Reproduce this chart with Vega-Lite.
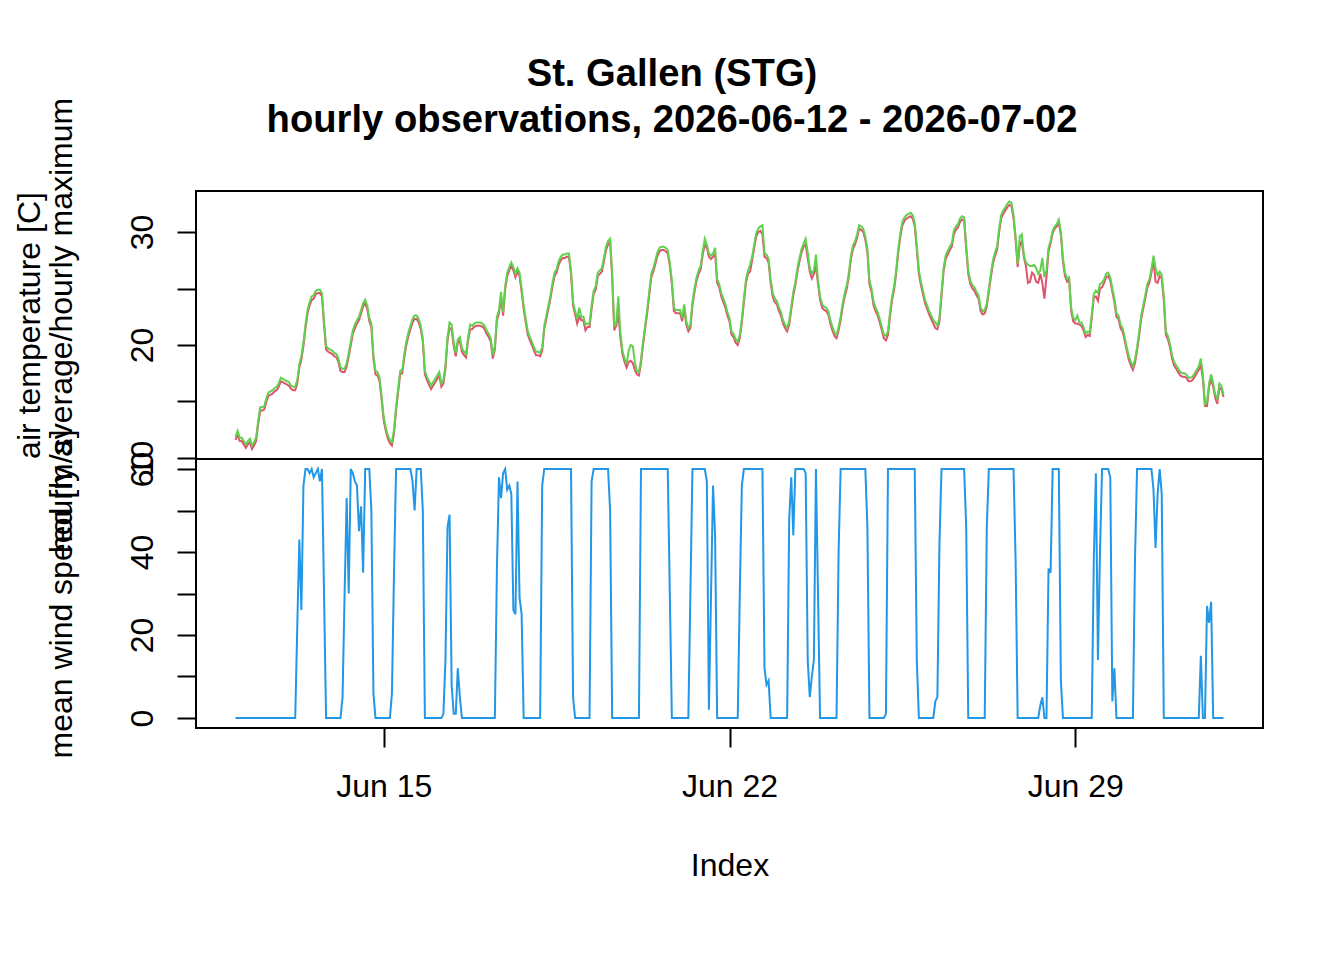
{
  "$schema": "https://vega.github.io/schema/vega-lite/v6.json",
  "background": "white",
  "padding": {"left": 12, "top": 55, "right": 10, "bottom": 10},
  "bounds": "flush",
  "spacing": 0,
  "title": {
    "text": ["St. Gallen (STG)", "hourly observations, 2026-06-12 - 2026-07-02"],
    "font": "Liberation Sans",
    "fontSize": 38.2,
    "fontWeight": "bold",
    "color": "#000000",
    "lineHeight": 46,
    "anchor": "middle",
    "frame": "group",
    "dx": -57.5,
    "offset": -44
  },
  "data": {
    "values": [
      {"h":0,"avg":11.6,"max":11.9,"wind":0},{"h":1,"avg":12.1,"max":12.4,"wind":0},{"h":2,"avg":11.5,"max":11.8,"wind":0},{"h":3,"avg":11.5,"max":11.8,"wind":0},{"h":4,"avg":11.2,"max":11.5,"wind":0},{"h":5,"avg":10.9,"max":11.2,"wind":0},{"h":6,"avg":11.2,"max":11.5,"wind":0},{"h":7,"avg":11.4,"max":11.7,"wind":0},{"h":8,"avg":10.8,"max":11.1,"wind":0},{"h":9,"avg":11.1,"max":11.4,"wind":0},
      {"h":10,"avg":11.5,"max":11.8,"wind":0},{"h":11,"avg":13.0,"max":13.3,"wind":0},{"h":12,"avg":14.2,"max":14.5,"wind":0},{"h":13,"avg":14.2,"max":14.5,"wind":0},{"h":14,"avg":14.3,"max":14.6,"wind":0},{"h":15,"avg":15.0,"max":15.3,"wind":0},{"h":16,"avg":15.5,"max":15.8,"wind":0},{"h":17,"avg":15.6,"max":15.9,"wind":0},{"h":18,"avg":15.7,"max":16.0,"wind":0},{"h":19,"avg":15.9,"max":16.2,"wind":0},
      {"h":20,"avg":16.0,"max":16.3,"wind":0},{"h":21,"avg":16.3,"max":16.6,"wind":0},{"h":22,"avg":16.8,"max":17.1,"wind":0},{"h":23,"avg":16.7,"max":17.0,"wind":0},{"h":24,"avg":16.6,"max":16.9,"wind":0},{"h":25,"avg":16.5,"max":16.8,"wind":0},{"h":26,"avg":16.4,"max":16.7,"wind":0},{"h":27,"avg":16.1,"max":16.4,"wind":0},{"h":28,"avg":16.0,"max":16.3,"wind":0},{"h":29,"avg":16.0,"max":16.3,"wind":0},
      {"h":30,"avg":16.6,"max":16.9,"wind":22},{"h":31,"avg":18.0,"max":18.3,"wind":43},{"h":32,"avg":18.7,"max":19.0,"wind":26},{"h":33,"avg":19.9,"max":20.2,"wind":56},{"h":34,"avg":21.5,"max":21.8,"wind":60},{"h":35,"avg":22.8,"max":23.1,"wind":60},{"h":36,"avg":23.5,"max":23.8,"wind":59},{"h":37,"avg":24.0,"max":24.3,"wind":60},{"h":38,"avg":24.1,"max":24.4,"wind":58},{"h":39,"avg":24.5,"max":24.8,"wind":59},
      {"h":40,"avg":24.6,"max":24.9,"wind":60},{"h":41,"avg":24.6,"max":24.9,"wind":57},{"h":42,"avg":24.3,"max":24.6,"wind":60},{"h":43,"avg":21.8,"max":22.1,"wind":30},{"h":44,"avg":19.6,"max":19.9,"wind":0},{"h":45,"avg":19.4,"max":19.7,"wind":0},{"h":46,"avg":19.3,"max":19.6,"wind":0},{"h":47,"avg":19.2,"max":19.5,"wind":0},{"h":48,"avg":19.0,"max":19.3,"wind":0},{"h":49,"avg":18.9,"max":19.2,"wind":0},
      {"h":50,"avg":18.5,"max":18.8,"wind":0},{"h":51,"avg":17.7,"max":18.0,"wind":0},{"h":52,"avg":17.6,"max":17.9,"wind":5},{"h":53,"avg":17.6,"max":17.9,"wind":30},{"h":54,"avg":18.1,"max":18.4,"wind":53},{"h":55,"avg":19.0,"max":19.3,"wind":30},{"h":56,"avg":20.0,"max":20.3,"wind":60},{"h":57,"avg":21.0,"max":21.3,"wind":59},{"h":58,"avg":21.5,"max":21.8,"wind":57},{"h":59,"avg":21.9,"max":22.2,"wind":56},
      {"h":60,"avg":22.2,"max":22.5,"wind":45},{"h":61,"avg":22.8,"max":23.1,"wind":51},{"h":62,"avg":23.4,"max":23.7,"wind":35},{"h":63,"avg":23.7,"max":24.0,"wind":60},{"h":64,"avg":23.2,"max":23.5,"wind":60},{"h":65,"avg":22.1,"max":22.4,"wind":60},{"h":66,"avg":21.6,"max":21.9,"wind":50},{"h":67,"avg":18.8,"max":19.1,"wind":6},{"h":68,"avg":17.4,"max":17.7,"wind":0},{"h":69,"avg":17.3,"max":17.6,"wind":0},
      {"h":70,"avg":16.8,"max":17.1,"wind":0},{"h":71,"avg":15.1,"max":15.4,"wind":0},{"h":72,"avg":13.3,"max":13.6,"wind":0},{"h":73,"avg":12.4,"max":12.7,"wind":0},{"h":74,"avg":11.7,"max":12.0,"wind":0},{"h":75,"avg":11.3,"max":11.6,"wind":0},{"h":76,"avg":11.1,"max":11.4,"wind":6},{"h":77,"avg":12.2,"max":12.5,"wind":35},{"h":78,"avg":14.2,"max":14.5,"wind":60},{"h":79,"avg":15.8,"max":16.1,"wind":60},
      {"h":80,"avg":17.4,"max":17.7,"wind":60},{"h":81,"avg":17.5,"max":17.8,"wind":60},{"h":82,"avg":18.9,"max":19.2,"wind":60},{"h":83,"avg":20.0,"max":20.3,"wind":60},{"h":84,"avg":20.8,"max":21.1,"wind":60},{"h":85,"avg":21.4,"max":21.7,"wind":60},{"h":86,"avg":22.0,"max":22.3,"wind":57},{"h":87,"avg":22.3,"max":22.6,"wind":50},{"h":88,"avg":22.3,"max":22.6,"wind":60},{"h":89,"avg":22.0,"max":22.3,"wind":60},
      {"h":90,"avg":21.4,"max":21.7,"wind":60},{"h":91,"avg":20.3,"max":20.6,"wind":50},{"h":92,"avg":17.4,"max":17.7,"wind":0},{"h":93,"avg":16.9,"max":17.2,"wind":0},{"h":94,"avg":16.5,"max":16.8,"wind":0},{"h":95,"avg":16.1,"max":16.4,"wind":0},{"h":96,"avg":16.4,"max":16.7,"wind":0},{"h":97,"avg":16.7,"max":17.0,"wind":0},{"h":98,"avg":17.0,"max":17.3,"wind":0},{"h":99,"avg":17.3,"max":17.6,"wind":0},
      {"h":100,"avg":16.3,"max":16.6,"wind":0},{"h":101,"avg":16.6,"max":16.9,"wind":1},{"h":102,"avg":17.9,"max":18.2,"wind":14},{"h":103,"avg":20.4,"max":20.7,"wind":46},{"h":104,"avg":21.5,"max":22.0,"wind":49},{"h":105,"avg":21.4,"max":21.8,"wind":8},{"h":106,"avg":19.9,"max":20.2,"wind":1},{"h":107,"avg":19.0,"max":19.3,"wind":1},{"h":108,"avg":20.2,"max":20.5,"wind":12},{"h":109,"avg":20.4,"max":20.7,"wind":5},
      {"h":110,"avg":19.4,"max":19.7,"wind":0},{"h":111,"avg":19.1,"max":19.4,"wind":0},{"h":112,"avg":18.9,"max":19.2,"wind":0},{"h":113,"avg":20.4,"max":20.7,"wind":0},{"h":114,"avg":21.4,"max":21.8,"wind":0},{"h":115,"avg":21.4,"max":21.7,"wind":0},{"h":116,"avg":21.6,"max":21.9,"wind":0},{"h":117,"avg":21.7,"max":22.0,"wind":0},{"h":118,"avg":21.7,"max":22.0,"wind":0},{"h":119,"avg":21.7,"max":22.0,"wind":0},
      {"h":120,"avg":21.6,"max":21.9,"wind":0},{"h":121,"avg":21.4,"max":21.7,"wind":0},{"h":122,"avg":21.0,"max":21.3,"wind":0},{"h":123,"avg":20.7,"max":21.0,"wind":0},{"h":124,"avg":20.3,"max":20.6,"wind":0},{"h":125,"avg":18.8,"max":19.1,"wind":0},{"h":126,"avg":19.6,"max":19.9,"wind":0},{"h":127,"avg":22.2,"max":22.5,"wind":36},{"h":128,"avg":22.8,"max":23.1,"wind":58},{"h":129,"avg":24.2,"max":24.7,"wind":53},
      {"h":130,"avg":22.6,"max":22.9,"wind":59},{"h":131,"avg":24.9,"max":25.2,"wind":60},{"h":132,"avg":26.1,"max":26.4,"wind":55},{"h":133,"avg":26.6,"max":26.9,"wind":56},{"h":134,"avg":27.0,"max":27.3,"wind":54},{"h":135,"avg":26.6,"max":26.9,"wind":26},{"h":136,"avg":26.0,"max":26.3,"wind":25},{"h":137,"avg":26.5,"max":26.8,"wind":57},{"h":138,"avg":26.1,"max":26.4,"wind":29},{"h":139,"avg":24.7,"max":25.0,"wind":25},
      {"h":140,"avg":23.2,"max":23.5,"wind":0},{"h":141,"avg":22.0,"max":22.3,"wind":0},{"h":142,"avg":20.9,"max":21.2,"wind":0},{"h":143,"avg":20.4,"max":20.7,"wind":0},{"h":144,"avg":20.0,"max":20.3,"wind":0},{"h":145,"avg":19.5,"max":19.8,"wind":0},{"h":146,"avg":19.1,"max":19.4,"wind":0},{"h":147,"avg":19.1,"max":19.4,"wind":0},{"h":148,"avg":19.0,"max":19.3,"wind":0},{"h":149,"avg":19.5,"max":19.8,"wind":56},
      {"h":150,"avg":21.4,"max":21.7,"wind":60},{"h":151,"avg":22.3,"max":22.6,"wind":60},{"h":152,"avg":23.2,"max":23.5,"wind":60},{"h":153,"avg":24.1,"max":24.4,"wind":60},{"h":154,"avg":25.2,"max":25.5,"wind":60},{"h":155,"avg":26.1,"max":26.4,"wind":60},{"h":156,"avg":26.4,"max":26.7,"wind":60},{"h":157,"avg":27.1,"max":27.4,"wind":60},{"h":158,"avg":27.5,"max":27.8,"wind":60},{"h":159,"avg":27.7,"max":28.0,"wind":60},
      {"h":160,"avg":27.7,"max":28.0,"wind":60},{"h":161,"avg":27.8,"max":28.1,"wind":60},{"h":162,"avg":27.8,"max":28.1,"wind":60},{"h":163,"avg":26.3,"max":26.6,"wind":60},{"h":164,"avg":23.5,"max":23.8,"wind":5},{"h":165,"avg":22.7,"max":23.0,"wind":0},{"h":166,"avg":21.9,"max":22.3,"wind":0},{"h":167,"avg":22.5,"max":23.3,"wind":0},{"h":168,"avg":22.2,"max":22.5,"wind":0},{"h":169,"avg":22.2,"max":22.5,"wind":0},
      {"h":170,"avg":21.3,"max":21.8,"wind":0},{"h":171,"avg":21.6,"max":21.9,"wind":0},{"h":172,"avg":21.6,"max":21.9,"wind":0},{"h":173,"avg":23.2,"max":23.5,"wind":57},{"h":174,"avg":24.5,"max":24.8,"wind":60},{"h":175,"avg":24.9,"max":25.2,"wind":60},{"h":176,"avg":26.1,"max":26.4,"wind":60},{"h":177,"avg":26.3,"max":26.6,"wind":60},{"h":178,"avg":26.5,"max":26.8,"wind":60},{"h":179,"avg":27.4,"max":27.7,"wind":60},
      {"h":180,"avg":28.4,"max":28.7,"wind":60},{"h":181,"avg":28.9,"max":29.2,"wind":60},{"h":182,"avg":29.1,"max":29.4,"wind":50},{"h":183,"avg":26.0,"max":26.3,"wind":0},{"h":184,"avg":21.3,"max":21.6,"wind":0},{"h":185,"avg":21.7,"max":22.0,"wind":0},{"h":186,"avg":22.8,"max":24.3,"wind":0},{"h":187,"avg":20.6,"max":21.0,"wind":0},{"h":188,"avg":19.2,"max":19.5,"wind":0},{"h":189,"avg":18.5,"max":18.8,"wind":0},
      {"h":190,"avg":18.0,"max":18.3,"wind":0},{"h":191,"avg":18.5,"max":19.5,"wind":0},{"h":192,"avg":18.6,"max":20.0,"wind":0},{"h":193,"avg":18.4,"max":19.9,"wind":0},{"h":194,"avg":17.8,"max":18.5,"wind":0},{"h":195,"avg":17.4,"max":17.7,"wind":0},{"h":196,"avg":17.3,"max":17.6,"wind":0},{"h":197,"avg":18.4,"max":18.7,"wind":60},{"h":198,"avg":20.0,"max":20.3,"wind":60},{"h":199,"avg":21.4,"max":21.7,"wind":60},
      {"h":200,"avg":22.8,"max":23.1,"wind":60},{"h":201,"avg":24.4,"max":24.7,"wind":60},{"h":202,"avg":26.0,"max":26.3,"wind":60},{"h":203,"avg":26.5,"max":26.8,"wind":60},{"h":204,"avg":27.2,"max":27.5,"wind":60},{"h":205,"avg":27.9,"max":28.2,"wind":60},{"h":206,"avg":28.3,"max":28.6,"wind":60},{"h":207,"avg":28.4,"max":28.7,"wind":60},{"h":208,"avg":28.4,"max":28.7,"wind":60},{"h":209,"avg":28.3,"max":28.6,"wind":60},
      {"h":210,"avg":28.1,"max":28.4,"wind":60},{"h":211,"avg":27.0,"max":27.3,"wind":30},{"h":212,"avg":25.4,"max":25.7,"wind":0},{"h":213,"avg":23.0,"max":23.3,"wind":0},{"h":214,"avg":22.8,"max":23.1,"wind":0},{"h":215,"avg":22.8,"max":23.1,"wind":0},{"h":216,"avg":22.8,"max":23.1,"wind":0},{"h":217,"avg":22.1,"max":22.4,"wind":0},{"h":218,"avg":23.3,"max":23.6,"wind":0},{"h":219,"avg":21.8,"max":22.1,"wind":0},
      {"h":220,"avg":21.2,"max":21.5,"wind":0},{"h":221,"avg":21.5,"max":21.8,"wind":30},{"h":222,"avg":23.5,"max":23.8,"wind":60},{"h":223,"avg":24.7,"max":25.0,"wind":60},{"h":224,"avg":25.7,"max":26.0,"wind":60},{"h":225,"avg":26.3,"max":26.6,"wind":60},{"h":226,"avg":26.7,"max":27.0,"wind":60},{"h":227,"avg":28.0,"max":28.3,"wind":60},{"h":228,"avg":28.9,"max":29.4,"wind":60},{"h":229,"avg":28.6,"max":28.9,"wind":57},
      {"h":230,"avg":27.8,"max":28.1,"wind":2},{"h":231,"avg":27.6,"max":27.9,"wind":29},{"h":232,"avg":27.8,"max":28.1,"wind":56},{"h":233,"avg":28.1,"max":28.6,"wind":44},{"h":234,"avg":25.5,"max":25.8,"wind":0},{"h":235,"avg":25.1,"max":25.4,"wind":0},{"h":236,"avg":24.3,"max":24.6,"wind":0},{"h":237,"avg":23.8,"max":24.1,"wind":0},{"h":238,"avg":23.3,"max":23.6,"wind":0},{"h":239,"avg":22.6,"max":22.9,"wind":0},
      {"h":240,"avg":22.1,"max":22.4,"wind":0},{"h":241,"avg":20.9,"max":21.2,"wind":0},{"h":242,"avg":20.7,"max":21.0,"wind":0},{"h":243,"avg":20.2,"max":20.5,"wind":0},{"h":244,"avg":20.0,"max":20.3,"wind":0},{"h":245,"avg":20.6,"max":20.9,"wind":30},{"h":246,"avg":22.0,"max":22.3,"wind":56},{"h":247,"avg":23.8,"max":24.1,"wind":60},{"h":248,"avg":25.5,"max":25.8,"wind":60},{"h":249,"avg":26.3,"max":26.6,"wind":60},
      {"h":250,"avg":26.5,"max":27.1,"wind":60},{"h":251,"avg":27.5,"max":27.8,"wind":60},{"h":252,"avg":28.6,"max":28.9,"wind":60},{"h":253,"avg":29.6,"max":29.9,"wind":60},{"h":254,"avg":30.0,"max":30.3,"wind":60},{"h":255,"avg":30.1,"max":30.5,"wind":60},{"h":256,"avg":29.8,"max":30.6,"wind":60},{"h":257,"avg":27.8,"max":28.1,"wind":12},{"h":258,"avg":27.7,"max":28.0,"wind":8},{"h":259,"avg":27.3,"max":27.6,"wind":9},
      {"h":260,"avg":25.5,"max":25.8,"wind":0},{"h":261,"avg":24.3,"max":24.6,"wind":0},{"h":262,"avg":23.8,"max":24.1,"wind":0},{"h":263,"avg":23.6,"max":23.9,"wind":0},{"h":264,"avg":23.0,"max":23.3,"wind":0},{"h":265,"avg":22.6,"max":22.9,"wind":0},{"h":266,"avg":21.9,"max":22.2,"wind":0},{"h":267,"avg":21.5,"max":21.8,"wind":0},{"h":268,"avg":21.2,"max":21.5,"wind":0},{"h":269,"avg":21.8,"max":22.1,"wind":48},
      {"h":270,"avg":23.1,"max":23.4,"wind":58},{"h":271,"avg":24.4,"max":24.7,"wind":44},{"h":272,"avg":25.3,"max":25.6,"wind":60},{"h":273,"avg":26.5,"max":26.8,"wind":60},{"h":274,"avg":27.4,"max":27.7,"wind":60},{"h":275,"avg":28.2,"max":28.5,"wind":60},{"h":276,"avg":28.7,"max":29.0,"wind":60},{"h":277,"avg":28.9,"max":29.4,"wind":59},{"h":278,"avg":27.7,"max":28.2,"wind":14},{"h":279,"avg":26.5,"max":26.8,"wind":5},
      {"h":280,"avg":25.9,"max":26.3,"wind":10},{"h":281,"avg":26.3,"max":26.6,"wind":14},{"h":282,"avg":27.0,"max":28.0,"wind":60},{"h":283,"avg":25.4,"max":25.7,"wind":30},{"h":284,"avg":24.0,"max":24.3,"wind":0},{"h":285,"avg":23.3,"max":23.6,"wind":0},{"h":286,"avg":23.1,"max":23.4,"wind":0},{"h":287,"avg":23.0,"max":23.3,"wind":0},{"h":288,"avg":22.7,"max":23.0,"wind":0},{"h":289,"avg":21.9,"max":22.2,"wind":0},
      {"h":290,"avg":21.3,"max":21.6,"wind":0},{"h":291,"avg":20.8,"max":21.1,"wind":0},{"h":292,"avg":20.6,"max":20.9,"wind":0},{"h":293,"avg":21.3,"max":21.6,"wind":40},{"h":294,"avg":22.2,"max":22.5,"wind":60},{"h":295,"avg":23.4,"max":23.7,"wind":60},{"h":296,"avg":24.3,"max":24.6,"wind":60},{"h":297,"avg":25.0,"max":25.3,"wind":60},{"h":298,"avg":26.1,"max":26.4,"wind":60},{"h":299,"avg":27.6,"max":27.9,"wind":60},
      {"h":300,"avg":28.5,"max":28.8,"wind":60},{"h":301,"avg":28.9,"max":29.2,"wind":60},{"h":302,"avg":29.5,"max":29.8,"wind":60},{"h":303,"avg":30.3,"max":30.6,"wind":60},{"h":304,"avg":30.2,"max":30.5,"wind":60},{"h":305,"avg":30.0,"max":30.3,"wind":60},{"h":306,"avg":29.3,"max":29.6,"wind":60},{"h":307,"avg":28.2,"max":28.5,"wind":46},{"h":308,"avg":25.4,"max":25.7,"wind":0},{"h":309,"avg":24.7,"max":25.0,"wind":0},
      {"h":310,"avg":23.5,"max":23.8,"wind":0},{"h":311,"avg":23.0,"max":23.3,"wind":0},{"h":312,"avg":22.6,"max":22.9,"wind":0},{"h":313,"avg":22.0,"max":22.3,"wind":0},{"h":314,"avg":21.3,"max":21.6,"wind":0},{"h":315,"avg":20.6,"max":20.9,"wind":0},{"h":316,"avg":20.4,"max":20.8,"wind":1},{"h":317,"avg":20.9,"max":21.2,"wind":60},{"h":318,"avg":22.6,"max":22.9,"wind":60},{"h":319,"avg":24.0,"max":24.3,"wind":60},
      {"h":320,"avg":24.9,"max":25.2,"wind":60},{"h":321,"avg":26.4,"max":26.7,"wind":60},{"h":322,"avg":28.2,"max":28.5,"wind":60},{"h":323,"avg":29.6,"max":29.9,"wind":60},{"h":324,"avg":30.6,"max":30.9,"wind":60},{"h":325,"avg":31.0,"max":31.3,"wind":60},{"h":326,"avg":31.2,"max":31.5,"wind":60},{"h":327,"avg":31.3,"max":31.6,"wind":60},{"h":328,"avg":31.4,"max":31.7,"wind":60},{"h":329,"avg":31.2,"max":31.5,"wind":60},
      {"h":330,"avg":30.5,"max":30.8,"wind":60},{"h":331,"avg":28.5,"max":28.8,"wind":14},{"h":332,"avg":26.3,"max":26.6,"wind":0},{"h":333,"avg":25.3,"max":25.6,"wind":0},{"h":334,"avg":24.5,"max":24.8,"wind":0},{"h":335,"avg":23.7,"max":24.0,"wind":0},{"h":336,"avg":23.2,"max":23.5,"wind":0},{"h":337,"avg":22.7,"max":23.0,"wind":0},{"h":338,"avg":22.3,"max":22.6,"wind":0},{"h":339,"avg":21.9,"max":22.2,"wind":0},
      {"h":340,"avg":21.5,"max":22.0,"wind":4},{"h":341,"avg":21.4,"max":21.7,"wind":5},{"h":342,"avg":22.1,"max":22.4,"wind":42},{"h":343,"avg":24.3,"max":24.6,"wind":60},{"h":344,"avg":26.5,"max":26.8,"wind":60},{"h":345,"avg":27.6,"max":27.9,"wind":60},{"h":346,"avg":28.0,"max":28.3,"wind":60},{"h":347,"avg":28.4,"max":28.7,"wind":60},{"h":348,"avg":28.7,"max":29.0,"wind":60},{"h":349,"avg":29.8,"max":30.1,"wind":60},
      {"h":350,"avg":30.2,"max":30.5,"wind":60},{"h":351,"avg":30.4,"max":30.7,"wind":60},{"h":352,"avg":30.9,"max":31.2,"wind":60},{"h":353,"avg":31.1,"max":31.4,"wind":60},{"h":354,"avg":31.0,"max":31.3,"wind":60},{"h":355,"avg":28.5,"max":28.8,"wind":46},{"h":356,"avg":26.3,"max":26.6,"wind":0},{"h":357,"avg":25.4,"max":25.7,"wind":0},{"h":358,"avg":25.0,"max":25.3,"wind":0},{"h":359,"avg":24.8,"max":25.1,"wind":0},
      {"h":360,"avg":24.4,"max":24.7,"wind":0},{"h":361,"avg":24.1,"max":24.4,"wind":0},{"h":362,"avg":23.0,"max":23.3,"wind":0},{"h":363,"avg":22.7,"max":23.0,"wind":0},{"h":364,"avg":22.8,"max":23.1,"wind":0},{"h":365,"avg":23.4,"max":23.7,"wind":46},{"h":366,"avg":24.7,"max":25.0,"wind":60},{"h":367,"avg":26.0,"max":26.3,"wind":60},{"h":368,"avg":27.2,"max":27.5,"wind":60},{"h":369,"avg":27.9,"max":28.2,"wind":60},
      {"h":370,"avg":28.4,"max":28.7,"wind":60},{"h":371,"avg":30.0,"max":30.3,"wind":60},{"h":372,"avg":31.2,"max":31.5,"wind":60},{"h":373,"avg":31.6,"max":31.9,"wind":60},{"h":374,"avg":31.9,"max":32.2,"wind":60},{"h":375,"avg":32.2,"max":32.5,"wind":60},{"h":376,"avg":32.4,"max":32.7,"wind":60},{"h":377,"avg":32.3,"max":32.6,"wind":60},{"h":378,"avg":31.2,"max":31.5,"wind":60},{"h":379,"avg":29.3,"max":29.6,"wind":38},
      {"h":380,"avg":26.9,"max":27.2,"wind":0},{"h":381,"avg":28.8,"max":29.6,"wind":0},{"h":382,"avg":29.2,"max":29.8,"wind":0},{"h":383,"avg":27.8,"max":28.0,"wind":0},{"h":384,"avg":27.0,"max":27.3,"wind":0},{"h":385,"avg":25.5,"max":27.1,"wind":0},{"h":386,"avg":25.6,"max":27.0,"wind":0},{"h":387,"avg":26.4,"max":27.0,"wind":0},{"h":388,"avg":26.2,"max":27.1,"wind":0},{"h":389,"avg":25.6,"max":26.8,"wind":0},
      {"h":390,"avg":25.5,"max":26.3,"wind":0},{"h":391,"avg":26.3,"max":26.6,"wind":3},{"h":392,"avg":25.5,"max":27.7,"wind":5},{"h":393,"avg":24.1,"max":26.0,"wind":0},{"h":394,"avg":26.0,"max":26.6,"wind":0},{"h":395,"avg":28.3,"max":28.6,"wind":36},{"h":396,"avg":29.0,"max":29.2,"wind":35},{"h":397,"avg":29.9,"max":30.1,"wind":60},{"h":398,"avg":30.3,"max":30.5,"wind":60},{"h":399,"avg":30.5,"max":30.7,"wind":60},
      {"h":400,"avg":30.8,"max":31.1,"wind":60},{"h":401,"avg":29.8,"max":30.0,"wind":9},{"h":402,"avg":27.4,"max":27.7,"wind":0},{"h":403,"avg":26.1,"max":26.4,"wind":0},{"h":404,"avg":25.6,"max":25.9,"wind":0},{"h":405,"avg":25.8,"max":26.0,"wind":0},{"h":406,"avg":23.0,"max":23.3,"wind":0},{"h":407,"avg":22.1,"max":22.4,"wind":0},{"h":408,"avg":21.9,"max":22.2,"wind":0},{"h":409,"avg":21.9,"max":22.6,"wind":0},
      {"h":410,"avg":21.8,"max":22.0,"wind":0},{"h":411,"avg":21.7,"max":22.0,"wind":0},{"h":412,"avg":21.3,"max":21.6,"wind":0},{"h":413,"avg":20.7,"max":21.0,"wind":0},{"h":414,"avg":20.9,"max":21.2,"wind":0},{"h":415,"avg":20.8,"max":21.1,"wind":0},{"h":416,"avg":22.4,"max":22.7,"wind":0},{"h":417,"avg":24.2,"max":24.5,"wind":38},{"h":418,"avg":24.3,"max":24.8,"wind":59},{"h":419,"avg":23.9,"max":24.6,"wind":14},
      {"h":420,"avg":25.0,"max":25.4,"wind":40},{"h":421,"avg":25.1,"max":25.5,"wind":60},{"h":422,"avg":25.5,"max":25.8,"wind":60},{"h":423,"avg":26.0,"max":26.3,"wind":60},{"h":424,"avg":26.1,"max":26.4,"wind":60},{"h":425,"avg":25.7,"max":26.0,"wind":58},{"h":426,"avg":24.7,"max":25.0,"wind":4},{"h":427,"avg":23.8,"max":24.1,"wind":12},{"h":428,"avg":22.5,"max":22.8,"wind":0},{"h":429,"avg":22.3,"max":22.6,"wind":0},
      {"h":430,"avg":21.5,"max":21.8,"wind":0},{"h":431,"avg":21.2,"max":21.5,"wind":0},{"h":432,"avg":20.4,"max":20.7,"wind":0},{"h":433,"avg":19.5,"max":19.8,"wind":0},{"h":434,"avg":18.7,"max":19.0,"wind":0},{"h":435,"avg":18.2,"max":18.5,"wind":0},{"h":436,"avg":17.8,"max":18.1,"wind":0},{"h":437,"avg":18.4,"max":18.7,"wind":38},{"h":438,"avg":19.5,"max":19.8,"wind":60},{"h":439,"avg":20.8,"max":21.1,"wind":60},
      {"h":440,"avg":22.3,"max":22.6,"wind":60},{"h":441,"avg":23.2,"max":23.5,"wind":60},{"h":442,"avg":24.1,"max":24.4,"wind":60},{"h":443,"avg":25.1,"max":25.4,"wind":60},{"h":444,"avg":25.5,"max":25.8,"wind":60},{"h":445,"avg":26.4,"max":26.7,"wind":60},{"h":446,"avg":27.5,"max":27.9,"wind":55},{"h":447,"avg":25.6,"max":26.8,"wind":41},{"h":448,"avg":25.5,"max":26.2,"wind":54},{"h":449,"avg":26.1,"max":26.5,"wind":60},
      {"h":450,"avg":25.9,"max":26.2,"wind":54},{"h":451,"avg":24.0,"max":24.3,"wind":0},{"h":452,"avg":20.9,"max":21.2,"wind":0},{"h":453,"avg":20.5,"max":20.8,"wind":0},{"h":454,"avg":19.8,"max":20.1,"wind":0},{"h":455,"avg":18.8,"max":19.1,"wind":0},{"h":456,"avg":18.2,"max":18.5,"wind":0},{"h":457,"avg":17.9,"max":18.2,"wind":0},{"h":458,"avg":17.6,"max":17.9,"wind":0},{"h":459,"avg":17.3,"max":17.6,"wind":0},
      {"h":460,"avg":17.2,"max":17.5,"wind":0},{"h":461,"avg":17.2,"max":17.5,"wind":0},{"h":462,"avg":17.1,"max":17.4,"wind":0},{"h":463,"avg":16.8,"max":17.1,"wind":0},{"h":464,"avg":16.8,"max":17.1,"wind":0},{"h":465,"avg":16.9,"max":17.2,"wind":0},{"h":466,"avg":17.2,"max":17.5,"wind":0},{"h":467,"avg":17.5,"max":17.8,"wind":0},{"h":468,"avg":17.8,"max":18.1,"wind":0},{"h":469,"avg":18.2,"max":18.8,"wind":15},
      {"h":470,"avg":17.0,"max":17.4,"wind":0},{"h":471,"avg":14.6,"max":14.8,"wind":0},{"h":472,"avg":14.6,"max":15.0,"wind":27},{"h":473,"avg":16.3,"max":16.6,"wind":23},{"h":474,"avg":17.0,"max":17.4,"wind":28},{"h":475,"avg":16.3,"max":16.6,"wind":0},{"h":476,"avg":15.3,"max":15.6,"wind":0},{"h":477,"avg":14.8,"max":15.2,"wind":0},{"h":478,"avg":16.2,"max":16.6,"wind":0},{"h":479,"avg":16.1,"max":16.4,"wind":0},
      {"h":480,"avg":15.4,"max":15.6,"wind":0}
    ]
  },
  "vconcat": [
    {
      "width": 1067,
      "height": 268,
      "transform": [{"fold": ["avg", "max"], "as": ["series", "temp"]}],
      "mark": {"type": "line", "strokeWidth": 2, "clip": true},
      "encoding": {
        "x": {
          "field": "h",
          "type": "quantitative",
          "scale": {"domain": [-19.2, 499.2], "nice": false, "zero": false},
          "axis": null
        },
        "y": {
          "field": "temp",
          "type": "quantitative",
          "scale": {"domain": [9.91, 33.63], "nice": false, "zero": false},
          "axis": {
            "values": [10, 15, 20, 25, 30],
            "labelExpr": "datum.value % 10 === 0 ? datum.label : ''",
            "title": ["air temperature [C]", "hourly average/hourly maximum"],
            "titleX": -157,
            "titleY": 134
          }
        },
        "color": {
          "field": "series",
          "type": "nominal",
          "scale": {"domain": ["avg", "max"], "range": ["#DF536B", "#61D04F"]},
          "legend": null
        }
      }
    },
    {
      "width": 1067,
      "height": 269,
      "mark": {"type": "line", "strokeWidth": 2, "color": "#2297E6", "clip": true},
      "encoding": {
        "x": {
          "field": "h",
          "type": "quantitative",
          "scale": {"domain": [-19.2, 499.2], "nice": false, "zero": false},
          "axis": {
            "values": [72, 240, 408],
            "labelExpr": "datum.value === 72 ? 'Jun 15' : datum.value === 240 ? 'Jun 22' : 'Jun 29'",
            "title": "Index",
            "titleX": 533.5,
            "titleY": 147
          }
        },
        "y": {
          "field": "wind",
          "type": "quantitative",
          "scale": {"domain": [-2.41, 62.41], "nice": false, "zero": false},
          "axis": {
            "values": [0, 10, 20, 30, 40, 50, 60],
            "labelExpr": "datum.value % 20 === 0 ? datum.label : ''",
            "title": "mean wind speed [m/s]",
            "titleX": -125,
            "titleY": 134.5
          }
        }
      }
    }
  ],
  "config": {
    "font": "Liberation Sans",
    "view": {"stroke": "#000000", "strokeWidth": 2},
    "axis": {
      "domain": false,
      "grid": false,
      "ticks": true,
      "tickColor": "#000000",
      "tickWidth": 2,
      "tickSize": 19,
      "labelFont": "Liberation Sans",
      "labelFontSize": 32,
      "labelColor": "#000000",
      "labelOverlap": false,
      "labelFlush": false,
      "labelBound": false,
      "titleFont": "Liberation Sans",
      "titleFontSize": 32,
      "titleFontWeight": "normal",
      "titleColor": "#000000"
    },
    "axisLeft": {
      "labelAngle": 270,
      "labelAlign": "center",
      "labelBaseline": "alphabetic",
      "labelPadding": 25,
      "titleAngle": 270,
      "titleAlign": "center",
      "titleBaseline": "alphabetic",
      "titleLineHeight": 32
    },
    "axisBottom": {
      "labelBaseline": "alphabetic",
      "labelPadding": 49,
      "titleBaseline": "alphabetic"
    }
  }
}
